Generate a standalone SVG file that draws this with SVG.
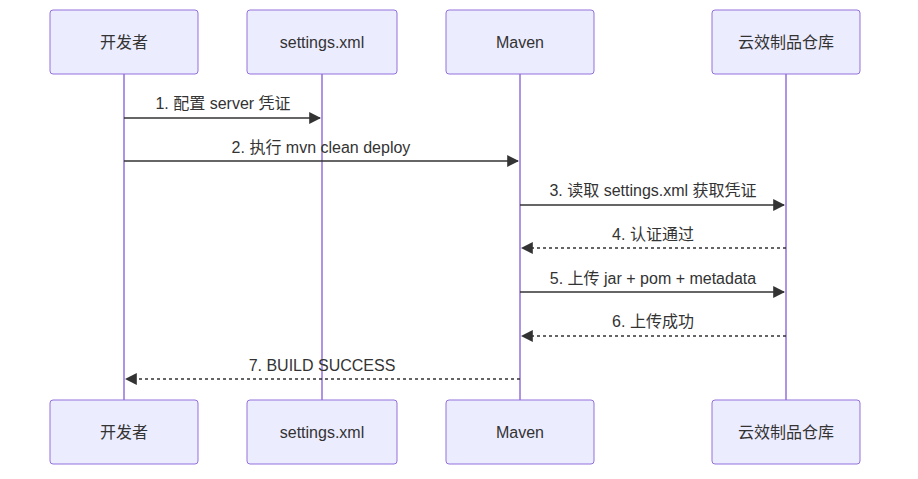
<svg xmlns="http://www.w3.org/2000/svg" width="918" height="479" viewBox="0 0 918 479">
<style>
.box{fill:#ECECFF;stroke:#9370DB;stroke-width:1}
.life{stroke:#9370DB;stroke-width:1.5}
.t{font-family:"Liberation Sans","Noto Sans CJK SC",sans-serif;font-size:16px;fill:#333;text-anchor:middle;dominant-baseline:central}
.m{stroke:#333;stroke-width:1.5;fill:none}
.d{stroke-dasharray:3,3}
</style>
<defs>
<marker id="ah" viewBox="0 0 10 10" refX="9" refY="5" markerWidth="8" markerHeight="8" orient="auto"><path d="M0,0L10,5L0,10z" fill="#333"/></marker>
</defs>
<rect width="918" height="479" fill="#fff"/>
<g id="lifelines">
<line class="life" x1="124" y1="74" x2="124" y2="400"/>
<line class="life" x1="322" y1="74" x2="322" y2="400"/>
<line class="life" x1="520" y1="74" x2="520" y2="400"/>
<line class="life" x1="786" y1="74" x2="786" y2="400"/>
</g>
<g id="dev"><rect class="box" x="50" y="10" width="148" height="64" rx="3"/><text class="t" x="124" y="42">开发者</text>
<rect class="box" x="50" y="400" width="148" height="64" rx="3"/><text class="t" x="124" y="432">开发者</text></g>
<g id="settings"><rect class="box" x="247" y="10" width="150" height="64" rx="3"/><text class="t" x="322" y="42">settings.xml</text>
<rect class="box" x="247" y="400" width="150" height="64" rx="3"/><text class="t" x="322" y="432">settings.xml</text></g>
<g id="maven"><rect class="box" x="446" y="10" width="148" height="64" rx="3"/><text class="t" x="520" y="42">Maven</text>
<rect class="box" x="446" y="400" width="148" height="64" rx="3"/><text class="t" x="520" y="432">Maven</text></g>
<g id="repo"><rect class="box" x="712" y="10" width="148" height="64" rx="3"/><text class="t" x="786" y="42">云效制品仓库</text>
<rect class="box" x="712" y="400" width="148" height="64" rx="3"/><text class="t" x="786" y="432">云效制品仓库</text></g>
<g id="connectors">
<line class="m" x1="124" y1="118" x2="320" y2="118" marker-end="url(#ah)"/>
<text class="t" x="223" y="103">1. 配置 server 凭证</text>
<line class="m" x1="124" y1="161" x2="518" y2="161" marker-end="url(#ah)"/>
<text class="t" x="321" y="147">2. 执行 mvn clean deploy</text>
<line class="m" x1="520" y1="205" x2="784" y2="205" marker-end="url(#ah)"/>
<text class="t" x="653" y="190">3. 读取 settings.xml 获取凭证</text>
<line class="m d" x1="786" y1="248" x2="522" y2="248" marker-end="url(#ah)"/>
<text class="t" x="653" y="234">4. 认证通过</text>
<line class="m" x1="520" y1="292" x2="784" y2="292" marker-end="url(#ah)"/>
<text class="t" x="653" y="278">5. 上传 jar + pom + metadata</text>
<line class="m d" x1="786" y1="336" x2="522" y2="336" marker-end="url(#ah)"/>
<text class="t" x="653" y="321">6. 上传成功</text>
<line class="m d" x1="520" y1="379" x2="126" y2="379" marker-end="url(#ah)"/>
<text class="t" x="322" y="365">7. BUILD SUCCESS</text>
</g>
</svg>
